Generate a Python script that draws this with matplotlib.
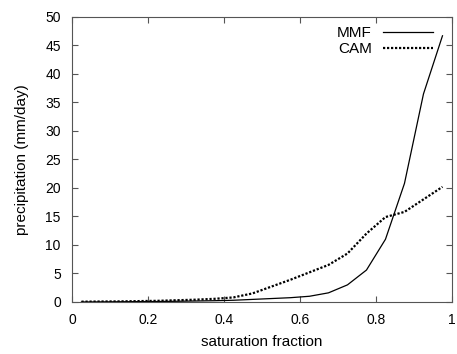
import matplotlib
matplotlib.use("Agg")
import matplotlib.pyplot as plt

plt.rcParams['font.family'] = ['Liberation Sans', 'DejaVu Sans']

# saturation fraction bin centres
sat = [0.025, 0.075, 0.125, 0.175, 0.225, 0.275, 0.325, 0.375, 0.425, 0.475,
       0.525, 0.575, 0.625, 0.675, 0.725, 0.775, 0.825, 0.875, 0.925, 0.975]
mmf = [0.0, 0.02, 0.04, 0.06, 0.08, 0.12, 0.17, 0.22, 0.3, 0.45,
       0.6, 0.75, 1.0, 1.6, 3.0, 5.6, 11.0, 20.8, 36.5, 46.7]
cam = [0.05, 0.08, 0.1, 0.15, 0.2, 0.3, 0.4, 0.55, 0.8, 1.5,
       2.7, 3.9, 5.2, 6.5, 8.5, 12.0, 14.9, 15.8, 18.0, 20.2]

fig = plt.figure(figsize=(4.57, 3.54), dpi=100)
ax = fig.add_axes([0.1575, 0.147, 0.8315, 0.805])

ax.plot(sat, mmf, color='black', linewidth=0.9, label='MMF')
ax.plot(sat, cam, color='black', linewidth=1.6, linestyle=(0, (1, 0.8)), label='CAM')

ax.set_xlim(0, 1)
ax.set_ylim(0, 50)
ax.set_xticks([0, 0.2, 0.4, 0.6, 0.8, 1])
ax.set_xticklabels(['0', '0.2', '0.4', '0.6', '0.8', '1'])
ax.set_yticks(range(0, 51, 5))
ax.tick_params(direction='in', top=True, right=True, labelsize=10, length=4,
               color='#555555')
ax.tick_params(axis='x', pad=8)
ax.tick_params(axis='y', pad=8)
for s in ax.spines.values():
    s.set_color('#555555')
ax.set_xlabel('saturation fraction', fontsize=11, labelpad=6)
ax.set_ylabel('precipitation (mm/day)', fontsize=11, labelpad=12)

ax.legend(loc='upper right', bbox_to_anchor=(0.95, 0.968), frameon=False,
          markerfirst=False, fontsize=11, handlelength=3.3, handletextpad=0.7,
          labelspacing=0.15, borderaxespad=0.0, borderpad=0.0)

fig.savefig('out.png', dpi=100)
